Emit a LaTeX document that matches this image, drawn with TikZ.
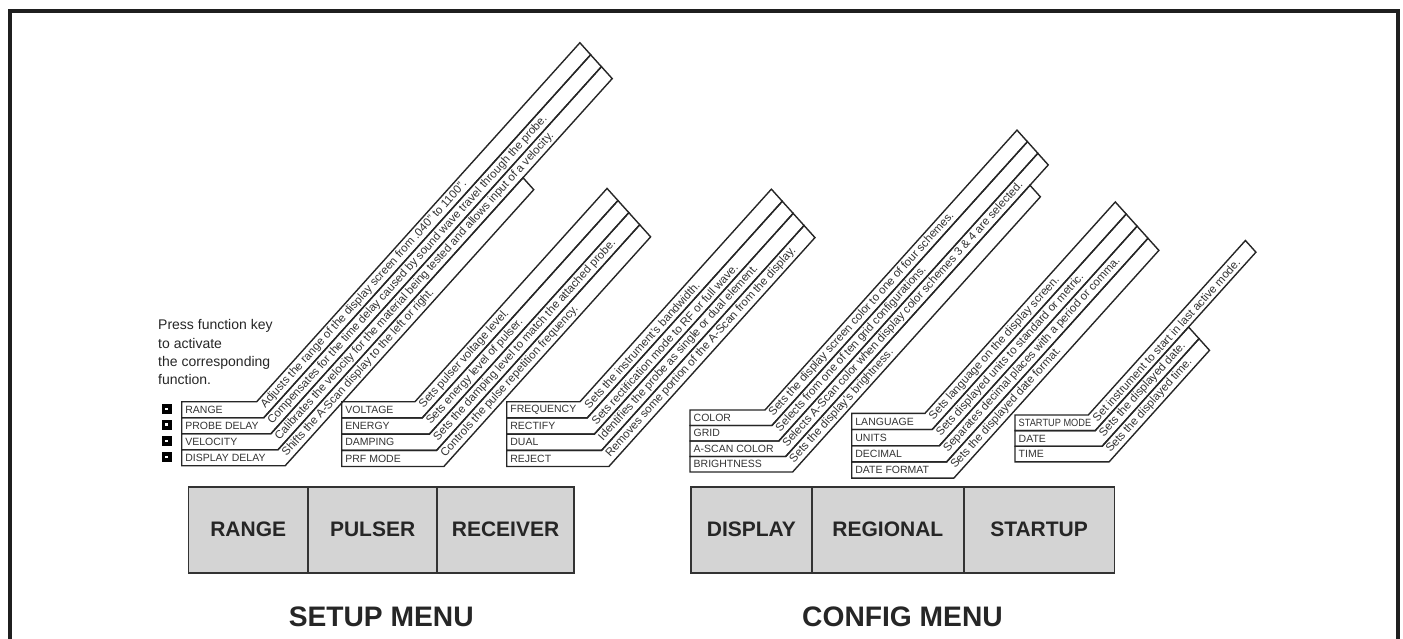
\documentclass[tikz,border=0pt]{standalone}
\usepackage{fontspec}
\setmainfont{Liberation Sans}
\def\bdcc{0.66913}
\def\bdss{0.74314}
\def\bdtg{0.44523}
\def\bdkk{1.00551}
\tikzset{
 band/.style={draw=black!85, line width=1.4pt, line join=miter},
 lab/.style={anchor=west, inner sep=0pt, font=\fontsize{10.5}{12}\selectfont, text=black!80},
 desc/.style={anchor=west, inner sep=0pt, rotate=48, font=\fontsize{11.5}{13}\selectfont, text=black!80},
 keysq/.style={fill=black, minimum size=10pt, inner sep=0pt,
   path picture={\fill[white] ([shift={(-1.3pt,-1.3pt)}]path picture bounding box.center) rectangle ([shift={(1.3pt,1.3pt)}]path picture bounding box.center);}},
 bigkey/.style={draw=black!80, fill=black!17, line width=1.6pt, font=\bfseries\fontsize{21}{24}\selectfont, inner sep=0pt, minimum height=86pt, text=black!85},
 menutitle/.style={font=\bfseries\fontsize{28.2}{32}\selectfont, text=black!85}
}
% #1 name, #2 x0, #3 y0, #4 bend x, #5 row height, #6 row index, #7 band length, #8 label, #9 description
\newcommand\mband[9]{%
  \pgfmathsetmacro\bdYa{#3+#6*#5}%
  \pgfmathsetmacro\bdYb{#3+(#6+1)*#5}%
  \pgfmathsetmacro\bdXa{#4+#6*#5*\bdtg}%
  \pgfmathsetmacro\bdXb{#4+(#6+1)*#5*\bdtg}%
  \pgfmathsetmacro\bdEx{\bdXa+#7*\bdcc}%
  \pgfmathsetmacro\bdEy{\bdYa-#7*\bdss}%
  \pgfmathsetmacro\bdFx{\bdEx+#5*\bdkk*\bdcc}%
  \pgfmathsetmacro\bdFy{\bdEy+#5*\bdkk*\bdss}%
  \pgfmathsetmacro\bdMy{(\bdYa+\bdYb)/2}%
  \pgfmathsetmacro\bdMx{(\bdXa+\bdXb)/2}%
  \draw[band] (#2,\bdYa) -- (\bdXa,\bdYa) -- (\bdEx,\bdEy) -- (\bdFx,\bdFy) -- (\bdXb,\bdYb) -- (#2,\bdYb) -- cycle;
  \node[lab] (#1l) at (#2+3.5,\bdMy) {#8};
  \node[desc] (#1d) at (\bdMx+4*\bdcc,\bdMy-4*\bdss) {#9};
}
\begin{document}
\begin{tikzpicture}[x=1pt,y=-1pt]
\useasboundingbox (0,0) rectangle (1403,639);
\draw[line width=4pt, draw=black!88] (10,642) -- (10,11) -- (1398,11) -- (1398,642);

\node[anchor=north west, inner sep=0pt, align=left, font=\fontsize{14}{18.3}\selectfont, text=black!85] (press) at (158,319.5) {Press function key\\to activate\\the corresponding\\function.};

\node[keysq] (sq1) at (166.7,408.8) {};
\node[keysq] (sq2) at (166.7,424.6) {};
\node[keysq] (sq3) at (166.7,440.8) {};
\node[keysq] (sq4) at (166.7,457.0) {};

% RANGE group
\mband{ra}{181.7}{401.7}{256.7}{16}{0}{483}{RANGE}{Adjusts the range of the display screen from .040" to 1100".}
\mband{pd}{181.7}{401.7}{256.7}{16}{1}{488.4}{PROBE DELAY}{Compensates for the time delay caused by sound wave travel through the probe.}
\mband{ve}{181.7}{401.7}{256.7}{16}{2}{493.9}{VELOCITY}{Calibrates the velocity for the material being tested and allows input of a velocity.}
\mband{dd}{181.7}{401.7}{256.7}{16}{3}{366}{DISPLAY DELAY}{Shifts the A-Scan display to the left or right.}

% PULSER group
\mband{vo}{341.7}{401.7}{415}{16.2}{0}{287}{VOLTAGE}{Sets pulser voltage level.}
\mband{en}{341.7}{401.7}{415}{16.2}{1}{292.5}{ENERGY}{Sets energy level of pulser.}
\mband{da}{341.7}{401.7}{415}{16.2}{2}{298}{DAMPING}{Sets the damping level to match the attached probe.}
\mband{pr}{341.7}{401.7}{415}{16.2}{3}{303.5}{PRF MODE}{Controls the pulse repetition frequency.}

% RECEIVER group
\mband{fr}{506.7}{401.7}{580}{16.2}{0}{286}{FREQUENCY}{Sets the instrument's bandwidth.}
\mband{rc}{506.7}{401.7}{580}{16.2}{1}{291.5}{RECTIFY}{Sets rectification mode to RF or full wave.}
\mband{du}{506.7}{401.7}{580}{16.2}{2}{297}{DUAL}{Identifies the probe as single or dual element.}
\mband{rj}{506.7}{401.7}{580}{16.2}{3}{302.5}{REJECT}{Removes some portion of the A-Scan from the display.}

% DISPLAY group
\mband{co}{690}{410}{765}{15.5}{0}{376.6}{COLOR}{Sets the display screen color to one of four schemes.}
\mband{gr}{690}{410}{765}{15.5}{1}{381.9}{GRID}{Selects from one of ten grid configurations.}
\mband{ac}{690}{410}{765}{15.5}{2}{387.1}{A-SCAN COLOR}{Selects A-Scan color when display color schemes 3 \& 4 are selected.}
\mband{br}{690}{410}{765}{15.5}{3}{365}{BRIGHTNESS}{Sets the display's brightness.}

% REGIONAL group
\mband{la}{851.7}{413.3}{925}{16.2}{0}{284.4}{LANGUAGE}{Sets language on the display screen.}
\mband{un}{851.7}{413.3}{925}{16.2}{1}{289.9}{UNITS}{Sets displayed units to standard or metric.}
\mband{de}{851.7}{413.3}{925}{16.2}{2}{295.4}{DECIMAL}{Separates decimal places with a period or comma.}
\mband{df}{851.7}{413.3}{925}{16.2}{3}{300.9}{DATE FORMAT}{Sets the displayed date format.}

% STARTUP group
\mband{sm}{1015}{415}{1088.3}{15.6}{0}{234.8}{\scalebox{0.88}[1]{STARTUP MODE}}{Set instrument to start in last active mode.}
\mband{dt}{1015}{415}{1088.3}{15.6}{1}{139.4}{DATE}{Sets the displayed date.}
\mband{ti}{1015}{415}{1088.3}{15.6}{2}{144.7}{TIME}{Sets the displayed time.}

% function keys
\node[bigkey, minimum width=119.9pt] (kRange) at (248.25,529.7) {RANGE};
\node[bigkey, minimum width=128.8pt] (kPulser) at (372.6,529.7) {PULSER};
\node[bigkey, minimum width=137.1pt] (kReceiver) at (505.55,529.7) {RECEIVER};
\node[bigkey, minimum width=121.2pt] (kDisplay) at (751.4,529.7) {DISPLAY};
\node[bigkey, minimum width=151.8pt] (kRegional) at (887.9,529.7) {REGIONAL};
\node[bigkey, minimum width=150.5pt] (kStartup) at (1039.05,529.7) {STARTUP};

\node[menutitle] (setup) at (381.2,616.7) {SETUP MENU};
\node[menutitle] (config) at (902.5,616.7) {CONFIG MENU};
\end{tikzpicture}
\end{document}
